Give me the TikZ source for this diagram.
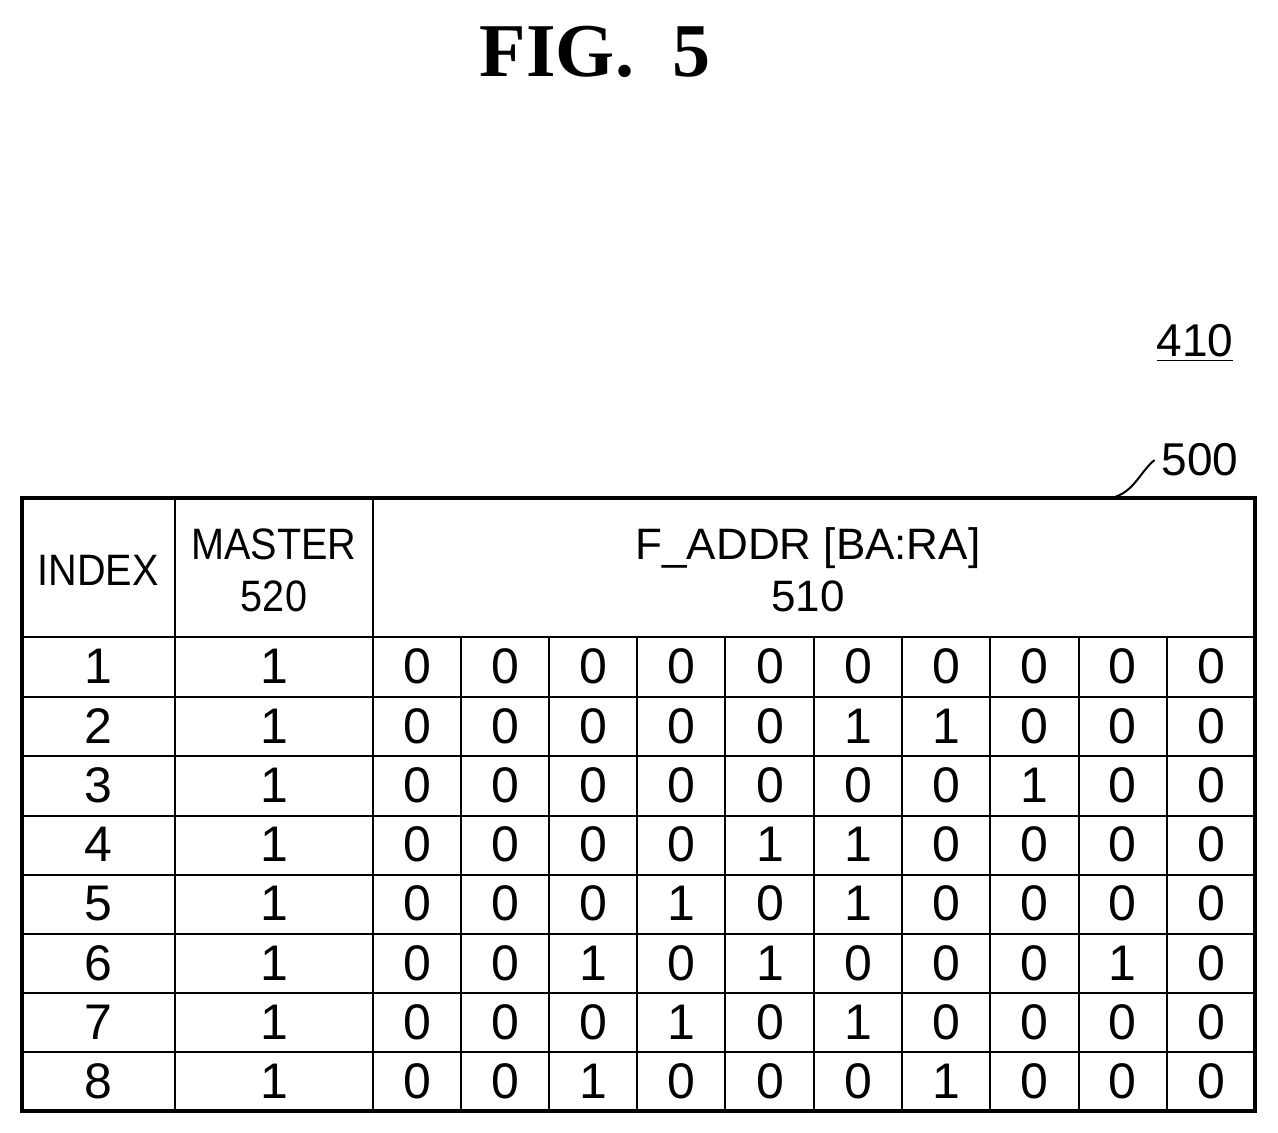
\documentclass[tikz,border=0pt]{standalone}
\usepackage{fontspec}
\setmainfont{Liberation Sans}
\newfontfamily\titlefont{Liberation Serif}
\begin{document}
\begin{tikzpicture}[x=0.5pt,y=-0.5pt,
  cell/.style={font=\fontsize{25}{28}\selectfont},
  head/.style={font=\fontsize{22}{26}\selectfont,align=center},
  grid/.style={line width=1.2pt}]
\useasboundingbox (0,0) rectangle (1278,1133);
\node[font=\titlefont\bfseries\fontsize{38}{40}\selectfont] (title) at (595,52) {FIG.\ \ 5};
\node[font=\fontsize{23}{26}\selectfont] (ref) at (1195,343) {\underline{410}};
\node[font=\fontsize{23}{26}\selectfont] (lbl) at (1200,460) {500};
\coordinate (lead) at (1115,497);
\draw[line width=1pt] (lead) .. controls (1135,490) and (1140,472) .. (lbl.west);
\draw[line width=1.8pt] (22,498) rectangle (1255,1111);
\draw[grid] (22,637) -- (1255,637);
\foreach \y in {697,756,816,875,934,993,1052} \draw[grid] (22,\y) -- (1255,\y);
\draw[grid] (175,498) -- (175,1111);
\draw[grid] (373,498) -- (373,1111);
\foreach \x in {461,549,637,725,814,902,990,1079,1167} \draw[grid] (\x,637) -- (\x,1111);
\node[head,xscale=0.9] (hidx) at (98,570) {INDEX};
\node[head,xscale=0.9] (hmas) at (274,570) {MASTER\\520};
\node[head] (hadr) at (808,570) {F\_ADDR [BA:RA]\\510};
\foreach \r/\bits in {1/{0,0,0,0,0,0,0,0,0,0},2/{0,0,0,0,0,1,1,0,0,0},3/{0,0,0,0,0,0,0,1,0,0},4/{0,0,0,0,1,1,0,0,0,0},5/{0,0,0,1,0,1,0,0,0,0},6/{0,0,1,0,1,0,0,0,1,0},7/{0,0,0,1,0,1,0,0,0,0},8/{0,0,1,0,0,0,1,0,0,0}}{
  \pgfmathsetmacro{\yc}{637+(\r-0.5)*59.25}
  \node[cell] (i\r) at (98,\yc) {\r};
  \node[cell] (m\r) at (274,\yc) {1};
  \foreach \b [count=\c] in \bits {
    \pgfmathsetmacro{\xc}{373+(\c-0.5)*88.2}
    \node[cell] (b\r-\c) at (\xc,\yc) {\b};
  }
}
\end{tikzpicture}
\end{document}
